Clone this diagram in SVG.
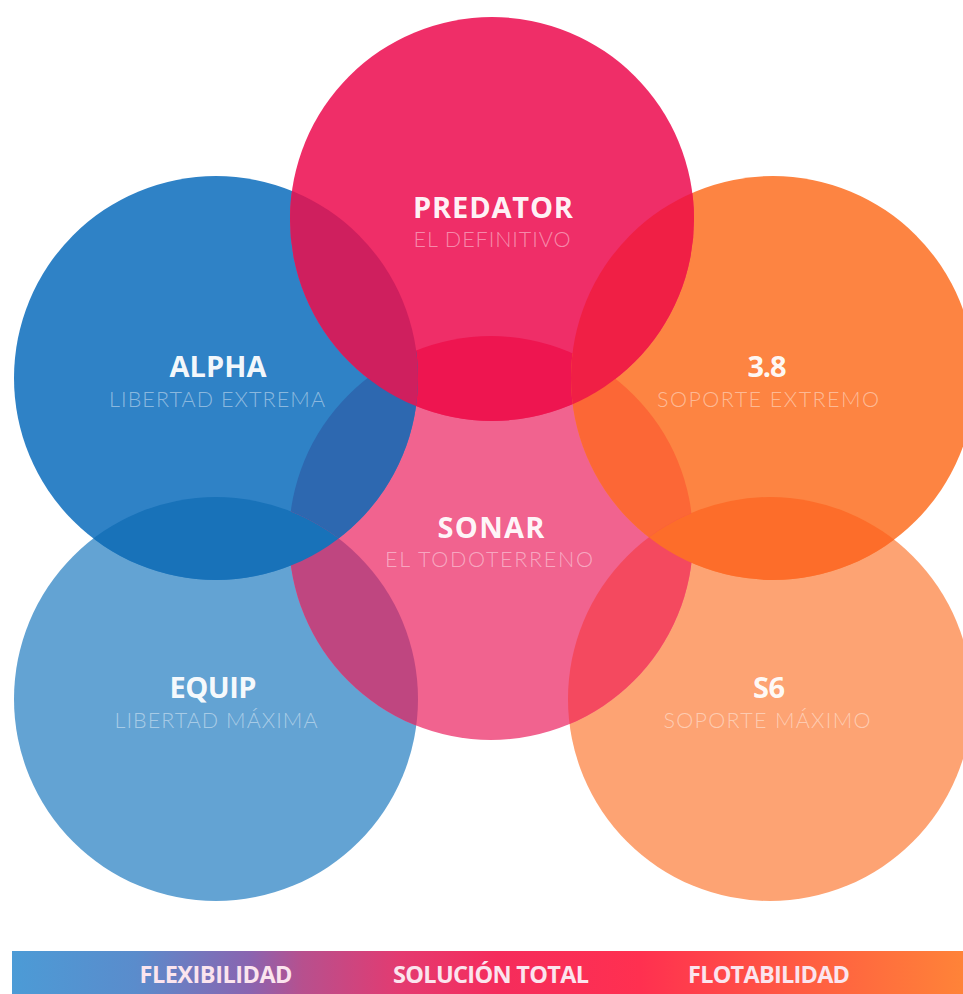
<svg xmlns="http://www.w3.org/2000/svg" width="963" height="994" viewBox="0 0 963 994">
<defs>
<style>
.t{font-family:"Open Sans","Liberation Sans",sans-serif;font-weight:700;font-size:29px;fill:#fff;fill-opacity:.96;text-anchor:middle}
.s{font-family:"Lato","Open Sans","Liberation Sans",sans-serif;font-weight:300;font-size:21.5px;fill:#fff;fill-opacity:.45;text-anchor:middle}
.b{font-family:"Open Sans","Liberation Sans",sans-serif;font-weight:700;font-size:23.5px;fill:#fbe4ee;text-anchor:middle}
</style>
<clipPath id="cPred"><circle cx="492" cy="219" r="202"/></clipPath>
<clipPath id="cAlpha"><circle cx="216" cy="378" r="202"/></clipPath>
<clipPath id="c38"><circle cx="773" cy="378" r="202"/></clipPath>
<clipPath id="cSonar"><circle cx="491" cy="538" r="202"/></clipPath>
<clipPath id="cEquip"><circle cx="216" cy="699" r="202"/></clipPath>
<clipPath id="cS6"><circle cx="770" cy="699" r="202"/></clipPath>
<linearGradient id="bar" x1="0" y1="0" x2="1" y2="0">
<stop offset="0" stop-color="#4c9bd6"/>
<stop offset="0.13" stop-color="#5a8ccc"/>
<stop offset="0.25" stop-color="#8a64b0"/>
<stop offset="0.305" stop-color="#b7508e"/>
<stop offset="0.41" stop-color="#e43a70"/>
<stop offset="0.51" stop-color="#f52c5c"/>
<stop offset="0.66" stop-color="#ff3050"/>
<stop offset="0.83" stop-color="#ff5c42"/>
<stop offset="1" stop-color="#ff8338"/>
</linearGradient>
</defs>
<rect width="963" height="994" fill="#fff"/>
<g id="circles">
<circle id="c-equip" cx="216" cy="699" r="202" fill="#63a3d3"/>
<circle id="c-s6" cx="770" cy="699" r="202" fill="#fda373"/>
<circle id="c-sonar" cx="491" cy="538" r="202" fill="#f1638f"/>
<circle id="c-alpha" cx="216" cy="378" r="202" fill="#2f82c6"/>
<circle id="c-38" cx="773" cy="378" r="202" fill="#fd8442"/>
<circle id="c-pred" cx="492" cy="219" r="202" fill="#ef2e68"/>
</g>
<g id="overlaps">
<circle cx="492" cy="219" r="202" fill="#ee1550" clip-path="url(#cSonar)"/>
<circle cx="216" cy="378" r="202" fill="#2d68b0" clip-path="url(#cSonar)"/>
<circle cx="773" cy="378" r="202" fill="#fc6736" clip-path="url(#cSonar)"/>
<circle cx="216" cy="699" r="202" fill="#bf4680" clip-path="url(#cSonar)"/>
<circle cx="770" cy="699" r="202" fill="#f4495f" clip-path="url(#cSonar)"/>
<circle cx="492" cy="219" r="202" fill="#cf1f5e" clip-path="url(#cAlpha)"/>
<circle cx="492" cy="219" r="202" fill="#f01f45" clip-path="url(#c38)"/>
<circle cx="216" cy="378" r="202" fill="#1872b9" clip-path="url(#cEquip)"/>
<circle cx="773" cy="378" r="202" fill="#fd6d2a" clip-path="url(#cS6)"/>
</g>
<g id="predator">
<text class="t" x="493" y="218" textLength="160">PREDATOR</text>
<text class="s" x="492" y="247" textLength="157">EL DEFINITIVO</text>
</g>
<g id="alpha">
<text class="t" x="218" y="377" textLength="97">ALPHA</text>
<text class="s" x="217" y="407" textLength="216">LIBERTAD EXTREMA</text>
</g>
<g id="n38">
<text class="t" x="767" y="377" textLength="39">3.8</text>
<text class="s" x="768" y="407" textLength="222">SOPORTE EXTREMO</text>
</g>
<g id="sonar">
<text class="t" x="491" y="538" textLength="107">SONAR</text>
<text class="s" x="489" y="567" textLength="208">EL TODOTERRENO</text>
</g>
<g id="equip">
<text class="t" x="213" y="698" textLength="87">EQUIP</text>
<text class="s" x="216" y="728" textLength="203">LIBERTAD MÁXIMA</text>
</g>
<g id="s6">
<text class="t" x="769" y="698" textLength="32">S6</text>
<text class="s" x="767" y="728" textLength="207">SOPORTE MÁXIMO</text>
</g>
<g id="legend">
<rect x="12" y="951" width="951" height="43" fill="url(#bar)"/>
<text class="b" x="216" y="983" textLength="153">FLEXIBILIDAD</text>
<text class="b" x="491" y="983" textLength="196">SOLUCIÓN TOTAL</text>
<text class="b" x="769" y="983" textLength="162">FLOTABILIDAD</text>
</g>
</svg>
